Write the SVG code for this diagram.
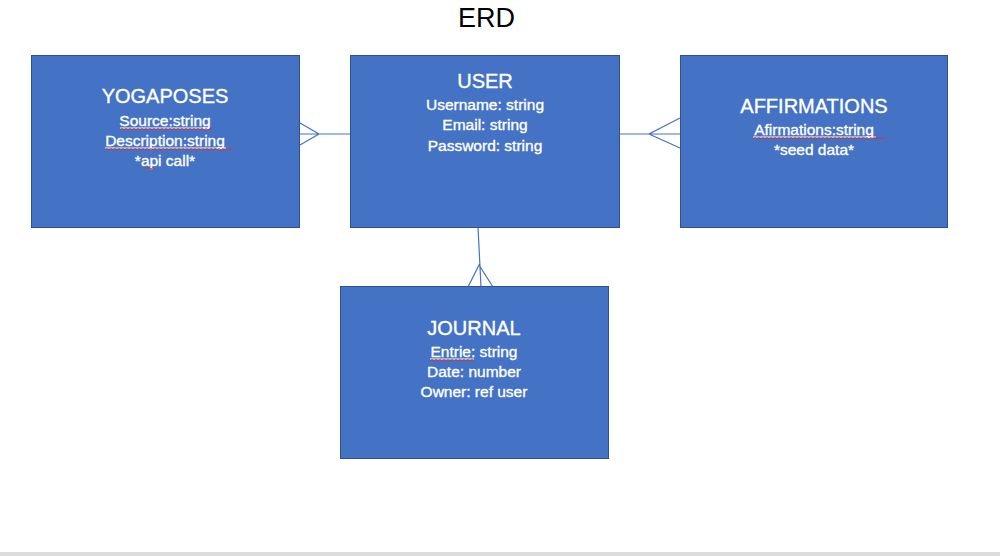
<svg xmlns="http://www.w3.org/2000/svg" width="1000" height="556" viewBox="0 0 1000 556">
<style>
.box{fill:#4472C4;stroke:#2F528F;stroke-width:1}
.t{font-family:"Liberation Sans",Arial,sans-serif;fill:#fff;stroke:#fff;stroke-width:0.35;text-anchor:middle}
.h{font-size:20px}
.f{font-size:15.5px}
.c{fill:none;stroke:#4472C4;stroke-width:1.2}
.ul{stroke:#fff;stroke-width:1}
.sq{fill:none;stroke:#e0302a;stroke-width:0.9}
</style>
<rect width="1000" height="556" fill="#fff"/>
<rect x="0" y="552" width="1000" height="4" fill="#dcdcdc"/>
<text x="486.5" y="27" font-family="'Liberation Sans',Arial,sans-serif" font-size="27" text-anchor="middle" fill="#000">ERD</text>
<g id="connectors">
<path class="c" d="M300,134 H350 M300,123 L319,134 L300,145"/>
<path class="c" d="M620,134 H680 M680,118 L649,134 L680,148"/>
<path class="c" d="M478,227 L481,287 M468,287 L479,265 L493,287"/>
</g>
<g id="yogaposes">
<rect class="box" x="31.5" y="55.5" width="268" height="172"/>
<text class="t h" x="165" y="103">YOGAPOSES</text>
<text class="t f" x="165" y="126">Source:string</text>
<text class="t f" x="165" y="146">Description:string</text>
<text class="t f" x="165" y="166">*api call*</text>
<path class="ul" d="M120,128 H210 M105,148 H226"/>
<path class="sq" d="M120,130 l2,-1.5 l2,1.5 l2,-1.5 l2,1.5 l2,-1.5 l2,1.5 l2,-1.5 l2,1.5 l2,-1.5 l2,1.5 l2,-1.5 l2,1.5 l2,-1.5 l2,1.5 l2,-1.5 l2,1.5 l2,-1.5 l2,1.5 l2,-1.5 l2,1.5 l2,-1.5 l2,1.5 l2,-1.5 l2,1.5 l2,-1.5 l2,1.5 l2,-1.5 l2,1.5 l2,-1.5 l2,1.5 l2,-1.5 l2,1.5 l2,-1.5 l2,1.5 l2,-1.5 l2,1.5 l2,-1.5 l2,1.5 l2,-1.5 l2,1.5 l2,-1.5 l2,1.5 l2,-1.5 l2,1.5 l2,-1.5 l2,1.5"/>
<path class="sq" d="M105,150 l2,-1.5 l2,1.5 l2,-1.5 l2,1.5 l2,-1.5 l2,1.5 l2,-1.5 l2,1.5 l2,-1.5 l2,1.5 l2,-1.5 l2,1.5 l2,-1.5 l2,1.5 l2,-1.5 l2,1.5 l2,-1.5 l2,1.5 l2,-1.5 l2,1.5 l2,-1.5 l2,1.5 l2,-1.5 l2,1.5 l2,-1.5 l2,1.5 l2,-1.5 l2,1.5 l2,-1.5 l2,1.5 l2,-1.5 l2,1.5 l2,-1.5 l2,1.5 l2,-1.5 l2,1.5 l2,-1.5 l2,1.5 l2,-1.5 l2,1.5 l2,-1.5 l2,1.5 l2,-1.5 l2,1.5 l2,-1.5 l2,1.5 l2,-1.5 l2,1.5 l2,-1.5 l2,1.5 l2,-1.5 l2,1.5 l2,-1.5 l2,1.5 l2,-1.5 l2,1.5 l2,-1.5 l2,1.5 l2,-1.5 l2,1.5 l2,-1.5 l2,1.5 l2,-1.5 l2,1.5"/>
<path class="sq" d="M143,169 l2,-1.5 l2,1.5 l2,-1.5 l2,1.5 l2,-1.5 l2,1.5"/>
</g>
<g id="user">
<rect class="box" x="350.5" y="55.5" width="269" height="172"/>
<text class="t h" x="485" y="88">USER</text>
<text class="t f" x="485" y="110">Username: string</text>
<text class="t f" x="485" y="130">Email: string</text>
<text class="t f" x="485" y="151">Password: string</text>
</g>
<g id="affirmations">
<rect class="box" x="680.5" y="55.5" width="267" height="172"/>
<text class="t h" x="814" y="113">AFFIRMATIONS</text>
<text class="t f" x="814" y="135">Afirmations:string</text>
<text class="t f" x="814" y="155">*seed data*</text>
<path class="ul" d="M753,137 H876"/>
<path class="sq" d="M753,139 l2,-1.5 l2,1.5 l2,-1.5 l2,1.5 l2,-1.5 l2,1.5 l2,-1.5 l2,1.5 l2,-1.5 l2,1.5 l2,-1.5 l2,1.5 l2,-1.5 l2,1.5 l2,-1.5 l2,1.5 l2,-1.5 l2,1.5 l2,-1.5 l2,1.5 l2,-1.5 l2,1.5 l2,-1.5 l2,1.5 l2,-1.5 l2,1.5 l2,-1.5 l2,1.5 l2,-1.5 l2,1.5 l2,-1.5 l2,1.5 l2,-1.5 l2,1.5 l2,-1.5 l2,1.5 l2,-1.5 l2,1.5 l2,-1.5 l2,1.5 l2,-1.5 l2,1.5 l2,-1.5 l2,1.5 l2,-1.5 l2,1.5 l2,-1.5 l2,1.5 l2,-1.5 l2,1.5 l2,-1.5 l2,1.5 l2,-1.5 l2,1.5 l2,-1.5 l2,1.5 l2,-1.5 l2,1.5 l2,-1.5 l2,1.5 l2,-1.5 l2,1.5 l2,-1.5 l2,1.5 l2,-1.5 l2,1.5"/>
</g>
<g id="journal">
<rect class="box" x="340.5" y="286.5" width="268" height="172"/>
<text class="t h" x="474" y="335">JOURNAL</text>
<text class="t f" x="474" y="357">Entrie: string</text>
<text class="t f" x="474" y="377">Date: number</text>
<text class="t f" x="474" y="397">Owner: ref user</text>
<path class="ul" d="M430,359 H474"/>
<path class="sq" d="M430,361 l2,-1.5 l2,1.5 l2,-1.5 l2,1.5 l2,-1.5 l2,1.5 l2,-1.5 l2,1.5 l2,-1.5 l2,1.5 l2,-1.5 l2,1.5 l2,-1.5 l2,1.5 l2,-1.5 l2,1.5 l2,-1.5 l2,1.5 l2,-1.5 l2,1.5 l2,-1.5 l2,1.5"/>
</g>
</svg>
